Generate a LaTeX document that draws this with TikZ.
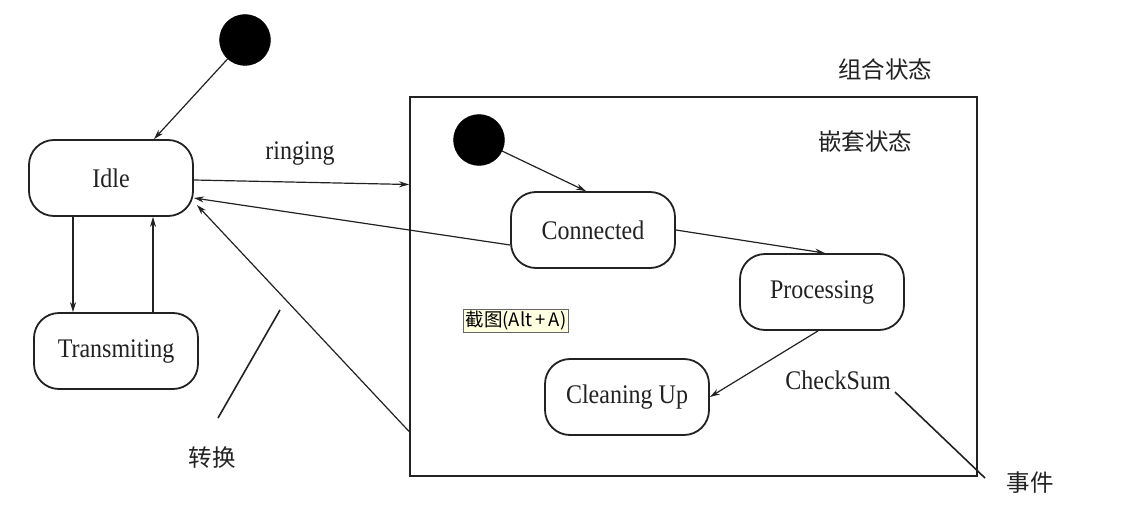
\documentclass[tikz,border=0pt]{standalone}
\usepackage{fontspec}
\usepackage{graphicx}
\setmainfont{Liberation Serif}
\newfontfamily\cjk{Noto Sans CJK SC}
\usetikzlibrary{arrows.meta,calc}
\definecolor{tipyellow}{HTML}{FFFFE1}
\definecolor{ink}{HTML}{222222}
\newcommand{\tallt}[1]{\scalebox{1}[1.12]{#1}}
\begin{document}
\begin{tikzpicture}[x=1pt,y=-1pt,
  statebox/.style={draw=ink,line width=1.8pt,rounded corners=25pt,minimum width=164pt,minimum height=76pt,font=\fontsize{24}{26}\selectfont,text=ink},
  initdot/.style={circle,fill=black,draw=black,minimum size=51pt,inner sep=0pt},
  arr/.style={draw=ink,line width=1.2pt,-{Stealth[length=10pt,width=6pt]}},
  plainline/.style={draw=ink,line width=1.6pt},
  cjklabel/.style={font=\cjk\fontsize{23.5}{25}\selectfont,text=ink},
  evlabel/.style={font=\fontsize{24}{26}\selectfont,text=ink}]
\useasboundingbox (0,0) rectangle (1131,508);
\fill[white] (0,0) rectangle (1131,508);

% composite state
\node[draw=ink,line width=1.8pt,minimum width=567pt,minimum height=379pt,inner sep=0pt] (comp) at (693.5,286.5) {};

% states
\node[initdot] (init) at (245,40) {};
\node[statebox] (idle) at (111,178) {\tallt{Idle}};
\node[statebox] (trans) at (116,351) {\tallt{Transmiting}};
\node[initdot] (init2) at (479,140) {};
\node[statebox] (conn) at (593,230) {\tallt{Connected}};
\node[statebox] (proc) at (822,292) {\tallt{Processing}};
\node[statebox] (clean) at (627,397) {\tallt{Cleaning Up}};

% labels
\node[evlabel] (ringing) at (300,154) {\tallt{ringing}};
\node[evlabel] (checksum) at (838,380) {\tallt{CheckSum}};
\node[cjklabel] (zuhe) at (885,70) {组合状态};
\node[cjklabel] (qiantao) at (865,142) {嵌套状态};
\node[cjklabel] (zhuanhuan) at (212,458) {转换};
\node[cjklabel] (shijian) at (1030,483) {事件};

% tooltip
\node[draw=gray!80!black,fill=tipyellow,line width=0.8pt,inner xsep=2pt,inner ysep=2pt,font=\cjk\fontsize{18.5}{20}\selectfont] (tip) at (516,321) {截图(Alt\,+\,A)};

% transitions
\draw[arr] (init) -- ([xshift=43pt]idle.north);
\draw[arr] ([xshift=-38pt]idle.south) -- ([xshift=-38pt]idle.south |- trans.north);
\draw[arr] ([xshift=42pt]idle.south |- trans.north) -- ([xshift=42pt]idle.south);
\draw[arr] ([yshift=-2pt]idle.east) -- ([yshift=102pt]comp.west);
\draw[arr] ([yshift=-15pt]conn.west) -- ([yshift=-20pt]idle.east);
\draw[arr] ([yshift=-145pt]comp.west) -- ([xshift=3pt,yshift=-27pt]idle.east);
\draw[arr] (init2) -- ([xshift=-7pt]conn.north);
\draw[arr] (conn.east) -- ([xshift=3pt]proc.north);
\draw[arr] ([xshift=-4pt]proc.south) -- (clean.east);

% pointer lines
\coordinate (tA) at (218,418);
\coordinate (tB) at (280,310);
\draw[plainline] (tA) -- (tB);
\coordinate (eA) at (895,392);
\coordinate (eB) at (985,478);
\draw[plainline] (eA) -- (eB);
\end{tikzpicture}
\end{document}
